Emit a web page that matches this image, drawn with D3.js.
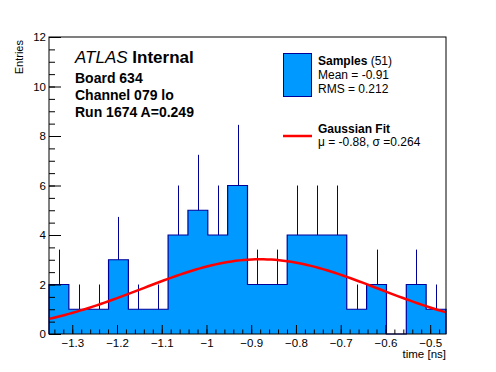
<!DOCTYPE html>
<html>
<head>
<meta charset="utf-8">
<script src="https://cdn.jsdelivr.net/npm/d3@7"></script>
<style>
  body { margin: 0; background: #fff; }
  svg { display: block; font-family: "Liberation Sans", Arial, Helvetica, sans-serif; }
</style>
</head>
<body>
<svg id="chart" width="496" height="372"></svg>
<script>
// histogram data
const xRange = [-1.352, -0.4646];
const counts = [2, 1, 1, 3, 1, 1, 4, 5, 4, 6, 2, 2, 4, 4, 4, 1, 2, 0, 2, 1];
const errors = [1.41, 1, 1, 1.73, 1, 1, 2, 2.24, 2, 2.45, 1.41, 1.41, 2, 2, 2, 1, 1.41, 0, 1.41, 1];

// gaussian fit parameters
const fitParams = { amp: 3.02, mu: -0.88, sigma: 0.264 };

// ticks
const xTicks = [-1.3, -1.2, -1.1, -1.0, -0.9, -0.8, -0.7, -0.6, -0.5];
const xTickLabels = ["\u22121.3", "\u22121.2", "\u22121.1", "\u22121", "\u22120.9", "\u22120.8", "\u22120.7", "\u22120.6", "\u22120.5"];
const yTicks = [0, 2, 4, 6, 8, 10, 12];

// text
const labelLines = ["Board 634", "Channel 079 lo", "Run 1674 A=0.249"];
const sampleStats = ["Mean = -0.91", "RMS = 0.212"];
const fitText = "\u03bc = -0.88, \u03c3 =0.264";

const svg = d3.select("#chart");
const margin = { top: 37, right: 50, bottom: 38, left: 49 };
const width = 496 - margin.left - margin.right;
const height = 372 - margin.top - margin.bottom;

const fillColor = "#0099ff";
const lineColor = "#000099";

const x = d3.scaleLinear().domain(xRange).range([0, width]);
const y = d3.scaleLinear().domain([0, 12]).range([height, 0]);

const g = svg.append("g").attr("transform", `translate(${margin.left},${margin.top})`);

const binW = (xRange[1] - xRange[0]) / counts.length;
const bins = counts.map((c, i) => ({
  x0: xRange[0] + i * binW,
  x1: xRange[0] + (i + 1) * binW,
  c: c,
  e: errors[i]
}));

// step outline
const stepPts = [[bins[0].x0, 0]];
bins.forEach(b => { stepPts.push([b.x0, b.c]); stepPts.push([b.x1, b.c]); });
stepPts.push([bins[bins.length - 1].x1, 0]);
const stepLine = d3.line().x(d => x(d[0])).y(d => y(d[1]));

g.append("path")
  .datum(stepPts)
  .attr("d", stepLine)
  .attr("fill", fillColor)
  .attr("stroke", "none");

// error bars (upper part)
g.selectAll("line.err")
  .data(bins.filter(b => b.c > 0))
  .enter()
  .append("line")
  .attr("class", "err")
  .attr("x1", d => Math.round(x((d.x0 + d.x1) / 2)) + 0.5)
  .attr("x2", d => Math.round(x((d.x0 + d.x1) / 2)) + 0.5)
  .attr("y1", d => y(d.c))
  .attr("y2", d => y(d.c + d.e))
  .attr("stroke", lineColor)
  .attr("stroke-width", 1);

g.append("path")
  .datum(stepPts)
  .attr("d", stepLine)
  .attr("fill", "none")
  .attr("stroke", lineColor)
  .attr("stroke-width", 1.2);

// gaussian fit curve
const fitX = d3.range(101).map(i => xRange[0] + i * (xRange[1] - xRange[0]) / 100);
const gauss = v => fitParams.amp * Math.exp(-0.5 * Math.pow((v - fitParams.mu) / fitParams.sigma, 2));
g.append("path")
  .datum(fitX)
  .attr("d", d3.line().x(d => x(d)).y(d => y(gauss(d))))
  .attr("fill", "none")
  .attr("stroke", "#ff0000")
  .attr("stroke-width", 2.5);

// axes
const yMinor = d3.range(0, 12.01, 0.5);
g.append("g")
  .call(d3.axisLeft(y).tickValues(yMinor).tickSize(-6).tickFormat(""))
  .call(a => a.select(".domain").remove());
g.append("g")
  .call(d3.axisLeft(y).tickValues(yTicks).tickSize(-12).tickPadding(3).tickFormat(d3.format("d")))
  .call(a => a.select(".domain").remove())
  .selectAll("text")
  .style("font-size", "11.5px")
  .style("font-family", "Liberation Sans, Arial, sans-serif");

const xMinor = d3.range(-1.34, -0.47, 0.02);
g.append("g")
  .attr("transform", `translate(0,${height})`)
  .call(d3.axisBottom(x).tickValues(xMinor).tickSize(-4.5).tickFormat(""))
  .call(a => a.select(".domain").remove());
g.append("g")
  .attr("transform", `translate(0,${height})`)
  .call(d3.axisBottom(x).tickValues(xTicks).tickSize(-9).tickPadding(5).tickFormat((d, i) => xTickLabels[i]))
  .call(a => a.select(".domain").remove())
  .selectAll("text")
  .style("font-size", "11.5px")
  .style("font-family", "Liberation Sans, Arial, sans-serif");

// frame
g.append("rect")
  .attr("x", 0).attr("y", 0)
  .attr("width", width).attr("height", height)
  .attr("fill", "none")
  .attr("stroke", "#000")
  .attr("stroke-width", 1);

// axis titles
svg.append("text")
  .attr("transform", `translate(23,${margin.top + 3}) rotate(-90)`)
  .style("text-anchor", "end")
  .style("font-size", "11px")
  .text("Entries");

svg.append("text")
  .attr("x", margin.left + width)
  .attr("y", 358)
  .style("text-anchor", "end")
  .style("font-size", "11.5px")
  .text("time [ns]");

// ATLAS label
const atlas = svg.append("text").attr("x", 75).attr("y", 63).style("font-size", "17px");
atlas.append("tspan").style("font-style", "italic").text("ATLAS");
atlas.append("tspan").style("font-weight", "bold").text(" Internal");

labelLines.forEach((t, i) => {
  svg.append("text")
    .attr("x", 75)
    .attr("y", 83 + i * 17)
    .style("font-size", "14px")
    .style("font-weight", "bold")
    .text(t);
});

// legend
svg.append("rect")
  .attr("x", 283.5).attr("y", 53.5)
  .attr("width", 28).attr("height", 43)
  .attr("fill", fillColor)
  .attr("stroke", lineColor)
  .attr("stroke-width", 1);

const samp = svg.append("text").attr("x", 318).attr("y", 65).style("font-size", "12px");
samp.append("tspan").style("font-weight", "bold").text("Samples");
samp.append("tspan").text(" (51)");

sampleStats.forEach((t, i) => {
  svg.append("text")
    .attr("x", 318)
    .attr("y", 79 + i * 14)
    .style("font-size", "12px")
    .text(t);
});

svg.append("line")
  .attr("x1", 283).attr("x2", 312)
  .attr("y1", 136).attr("y2", 136)
  .attr("stroke", "#ff0000")
  .attr("stroke-width", 2.5);

svg.append("text")
  .attr("x", 318).attr("y", 133)
  .style("font-size", "12px")
  .style("font-weight", "bold")
  .text("Gaussian Fit");

svg.append("text")
  .attr("x", 318).attr("y", 146)
  .style("font-size", "12px")
  .text(fitText);
</script>
</body>
</html>
